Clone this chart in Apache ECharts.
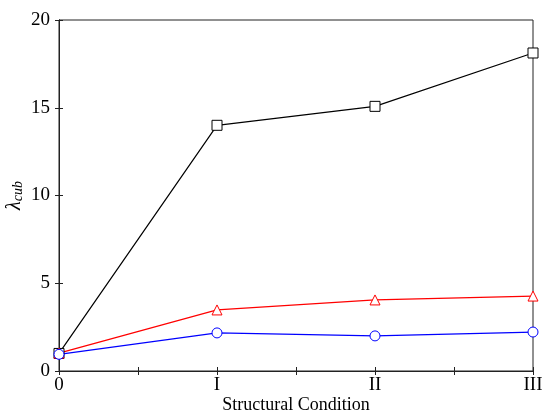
<!DOCTYPE html>
<html lang="en">
<head>
    <meta charset="utf-8" />
    <title>lambda cub</title>
    <script src="https://cdn.jsdelivr.net/npm/echarts@6/dist/echarts.min.js"></script>
</head>
<body style="margin:0">
    <div id="box" style="height:417px;width:542px"></div>
<script>
    // x positions: structural condition 0, I, II, III
    var conditions = [0, 1, 2, 3];
    var conditionLabels = ['0', 'I', 'II', 'III'];
    var squareVals = [1.0, 14.0, 15.08, 18.12];
    var triangleVals = [1.02, 3.48, 4.05, 4.27];
    var circleVals = [0.95, 2.17, 2.0, 2.22];

    function pairs(vals) {
        var out = [];
        for (var i = 0; i < vals.length; i++) {
            out.push([conditions[i], vals[i]]);
        }
        return out;
    }

    var font = 'Liberation Serif';
    var axisColor = '#222';

    function xLabel(v) {
        if (v % 1 !== 0) return '';
        return conditionLabels[v] || '';
    }

    function lineSeries(vals, symbol, color) {
        return {
            type: 'line', data: pairs(vals),
            symbol: symbol, symbolSize: 10,
            lineStyle: {color: color, width: 1.2},
            itemStyle: {color: '#fff', borderColor: color, borderWidth: 1, opacity: 1}
        };
    }

    var myChart = echarts.init(document.getElementById('box'));
    var option = {
        animation: false,
        grid: {
            left: 59, right: 9, top: 20, bottom: 46,
            outerBoundsMode: 'none',
            show: true, borderColor: axisColor, borderWidth: 1
        },
        xAxis: [
            {
                type: 'value', min: 0, max: 3, interval: 0.5,
                name: 'Structural Condition',
                nameLocation: 'middle', nameGap: 25, nameMoveOverlap: false,
                nameTextStyle: {fontFamily: font, fontSize: 18, color: '#000'},
                axisLine: {show: true, lineStyle: {color: axisColor}},
                axisTick: {show: true, inside: true, length: 4, lineStyle: {color: axisColor}},
                axisLabel: {formatter: xLabel, fontFamily: font, fontSize: 19, color: '#000', margin: 5},
                splitLine: {show: false}
            },
            {
                type: 'value', min: 0, max: 3, interval: 0.5, position: 'top',
                axisLine: {show: true, lineStyle: {color: axisColor}},
                axisTick: {show: true, inside: true, length: 4, lineStyle: {color: axisColor}},
                axisLabel: {show: false},
                splitLine: {show: false}
            }
        ],
        yAxis: [
            {
                type: 'value', min: 0, max: 20, interval: 5,
                name: '{l|λ}{s|cub}',
                nameLocation: 'middle', nameGap: 34, nameRotate: 90, nameMoveOverlap: false,
                nameTextStyle: {
                    rich: {
                        l: {fontFamily: font, fontStyle: 'italic', fontSize: 20, color: '#000'},
                        s: {fontFamily: font, fontStyle: 'italic', fontSize: 14, color: '#000', padding: [7, 0, 0, 0]}
                    }
                },
                axisLine: {show: true, lineStyle: {color: axisColor}},
                axisTick: {show: true, inside: true, length: 4, lineStyle: {color: axisColor}},
                axisLabel: {fontFamily: font, fontSize: 19, color: '#000', margin: 9},
                splitLine: {show: false}
            },
            {
                type: 'value', min: 0, max: 20, interval: 5, position: 'right',
                axisLine: {show: true, lineStyle: {color: axisColor}},
                axisTick: {show: true, inside: true, length: 4, lineStyle: {color: axisColor}},
                axisLabel: {show: false},
                splitLine: {show: false}
            }
        ],
        series: [
            lineSeries(squareVals, 'rect', '#000'),
            lineSeries(triangleVals, 'triangle', '#ff0000'),
            lineSeries(circleVals, 'circle', '#0000ff')
        ]
    };
    myChart.setOption(option);
</script>
</body>
</html>
